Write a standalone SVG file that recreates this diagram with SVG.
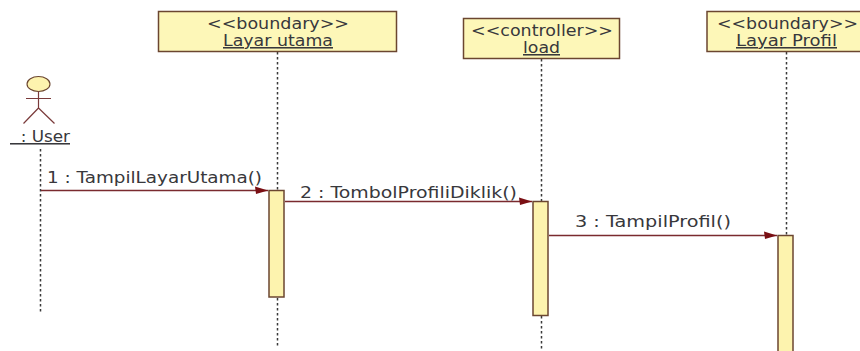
<svg xmlns="http://www.w3.org/2000/svg" width="860" height="351" viewBox="0 0 860 351">
<defs>
<marker id="arrow" markerUnits="userSpaceOnUse" markerWidth="14" markerHeight="10" refX="13" refY="5" orient="auto"><path d="M0 1L13 5L1 8.500Z" fill="#7a0f14"/></marker>
</defs>
<style>
text{font-family:"DejaVu Sans",Verdana,sans-serif;font-size:15.500px;fill:#38383c;white-space:pre}
.b{fill:#fdf7b8;stroke:#6b4630;stroke-width:1.500}
.a{fill:#fdf3ae;stroke:#6b4630;stroke-width:1.500}
.l{stroke:#3a3a3a;stroke-width:1.500;stroke-dasharray:2.500 2.500;fill:none}
.s{stroke:#7a3a3a;stroke-width:1.200;fill:none}
.c{stroke:#7a2a2e;stroke-width:1.300;fill:none;marker-end:url(#arrow)}
.u{text-decoration:underline}
</style>
<rect width="860" height="351" fill="#fff"/>
<g id="lifelines">
<path class="l" d="M40.500 149V313"/>
<path class="l" d="M277.500 52V190M277.500 298V346"/>
<path class="l" d="M541.500 59V201M541.500 316V351"/>
<path class="l" d="M786.500 52V235"/>
</g>
<g id="connectors">
<path class="c" d="M41 190.500H268"/>
<path class="c" d="M285 201.500H532"/>
<path class="c" d="M549 235.500H777"/>
</g>
<g id="user">
<ellipse cx="38.500" cy="84" rx="11.500" ry="7.500" class="a" style="stroke-width:1.100"/>
<path class="s" d="M38.500 91.500V108M26 98.500H51M38.500 108L23.500 123.500M38.500 108L54.500 123.500"/>
<text x="10" y="142" class="u" textLength="60" lengthAdjust="spacingAndGlyphs">  : User</text>
</g>
<g id="layar-utama">
<rect class="b" x="158.500" y="11.500" width="238" height="40"/>
<text x="207" y="29" textLength="142" lengthAdjust="spacingAndGlyphs">&lt;&lt;boundary&gt;&gt;</text>
<text x="223" y="46" class="u" textLength="110" lengthAdjust="spacingAndGlyphs">Layar utama</text>
</g>
<g id="load">
<rect class="b" x="463.500" y="18.500" width="156" height="40"/>
<text x="471" y="36" textLength="142" lengthAdjust="spacingAndGlyphs">&lt;&lt;controller&gt;&gt;</text>
<text x="523" y="53" class="u" textLength="37" lengthAdjust="spacingAndGlyphs">load</text>
</g>
<g id="layar-profil">
<rect class="b" x="707" y="11.500" width="154" height="40"/>
<text x="717" y="29" textLength="141" lengthAdjust="spacingAndGlyphs">&lt;&lt;boundary&gt;&gt;</text>
<text x="736" y="46" class="u" textLength="101" lengthAdjust="spacingAndGlyphs">Layar Profil</text>
</g>
<g id="activation-1"><rect class="a" x="269" y="190.500" width="15" height="106.500"/></g>
<g id="activation-2"><rect class="a" x="533" y="201.500" width="15" height="114"/></g>
<g id="activation-3"><rect class="a" x="778" y="235.500" width="15" height="120"/></g>
<g id="labels">
<text x="47" y="183" textLength="215" lengthAdjust="spacingAndGlyphs">1 : TampilLayarUtama()</text>
<text x="300" y="198" textLength="217" lengthAdjust="spacingAndGlyphs">2 : TombolProfiliDiklik()</text>
<text x="575" y="227" textLength="156" lengthAdjust="spacingAndGlyphs">3 : TampilProfil()</text>
</g>
</svg>
